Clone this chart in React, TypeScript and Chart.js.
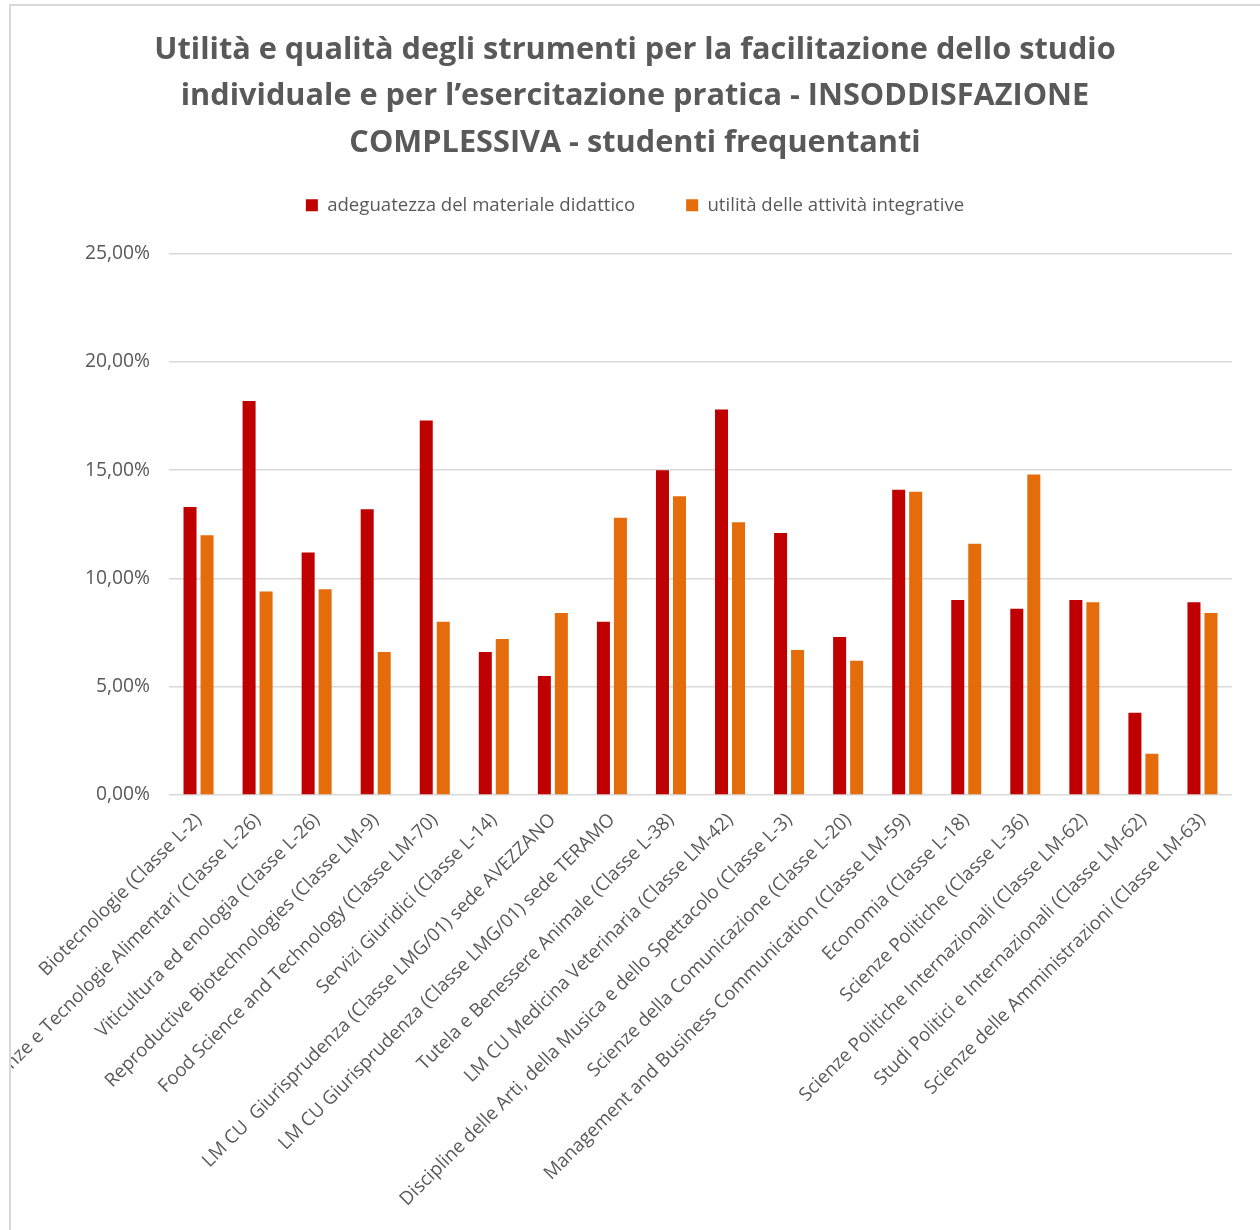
import React, { useEffect, useRef } from "react";
import { Chart, registerables } from "chart.js";

Chart.register(...registerables);

const titleLines = [
  "Utilità e qualità degli strumenti per la facilitazione dello studio",
  "individuale e per l’esercitazione pratica - INSODDISFAZIONE",
  "COMPLESSIVA - studenti frequentanti",
];

const seriesNames = [
  "adeguatezza del materiale didattico",
  "utilità delle attività integrative",
];

const categories = [
  "Biotecnologie (Classe L-2)",
  "Scienze e Tecnologie Alimentari (Classe L-26)",
  "Viticultura ed enologia (Classe L-26)",
  "Reproductive Biotechnologies (Classe LM-9)",
  "Food Science and Technology (Classe LM-70)",
  "Servizi Giuridici (Classe L-14)",
  "LM CU  Giurisprudenza (Classe LMG/01) sede AVEZZANO",
  "LM CU Giurisprudenza (Classe LMG/01) sede TERAMO",
  "Tutela e Benessere Animale (Classe L-38)",
  "LM CU Medicina Veterinaria (Classe LM-42)",
  "Discipline delle Arti, della Musica e dello Spettacolo (Classe L-3)",
  "Scienze della Comunicazione (Classe L-20)",
  "Management and Business Communication (Classe LM-59)",
  "Economia (Classe L-18)",
  "Scienze Politiche (Classe L-36)",
  "Scienze Politiche Internazionali (Classe LM-62)",
  "Studi Politici e Internazionali (Classe LM-62)",
  "Scienze delle Amministrazioni (Classe LM-63)",
];

const materialeValues = [13.3, 18.2, 11.2, 13.2, 17.3, 6.6, 5.5, 8.0, 15.0, 17.8, 12.1, 7.3, 14.1, 9.0, 8.6, 9.0, 3.8, 8.9];
const integrativeValues = [12.0, 9.4, 9.5, 6.6, 8.0, 7.2, 8.4, 12.8, 13.8, 12.6, 6.7, 6.2, 14.0, 11.6, 14.8, 8.9, 1.9, 8.4];

const yMin = 0;
const yMax = 25;
const yStep = 5;

const TEXT = "#595959";
const GRID = "#d9d9d9";
const RED = "#C00000";
const ORANGE = "#E46C0A";

const CW = 1248;
const CH = 1224;

export default function App() {
  const ref = useRef<HTMLCanvasElement | null>(null);

  useEffect(() => {
    if (!ref.current) return;
    const chart = new Chart(ref.current, {
      type: "bar",
      data: {
        labels: categories,
        datasets: [
          {
            label: seriesNames[0],
            data: materialeValues,
            backgroundColor: RED,
            categoryPercentage: 0.576,
            barPercentage: 0.765,
          },
          {
            label: seriesNames[1],
            data: integrativeValues,
            backgroundColor: ORANGE,
            categoryPercentage: 0.576,
            barPercentage: 0.765,
          },
        ],
      },
      options: {
        responsive: false,
        animation: false,
        devicePixelRatio: 1,
        layout: { padding: { top: 0, left: 27, right: 27, bottom: 0 } },
        plugins: {
          title: {
            display: true,
            text: titleLines,
            color: TEXT,
            font: { family: "'Open Sans', sans-serif", size: 30.7, weight: "bold", lineHeight: 1.51 },
            padding: { top: 21, bottom: -21 },
          },
          subtitle: {
            display: true,
            text: "",
            weight: 500,
            font: { size: 1, lineHeight: 1 },
            padding: { top: 28, bottom: 0 },
          },
          legend: {
            display: true,
            position: "top",
            labels: {
              color: TEXT,
              boxWidth: 12,
              boxHeight: 12,
              padding: 51,
              font: { family: "'Open Sans', sans-serif", size: 18.6 },
            },
          },
          tooltip: { enabled: false },
        },
        scales: {
          x: {
            grid: { display: false },
            border: { display: false },
            ticks: {
              color: TEXT,
              font: { family: "'Open Sans', sans-serif", size: 18.7 },
              minRotation: 45,
              maxRotation: 45,
              autoSkip: false,
              padding: 6,
            },
            afterFit: (scale: any) => {
              scale.height = 435;
            },
          },
          y: {
            min: yMin,
            max: yMax,
            grid: { color: GRID, lineWidth: 1.5, drawTicks: false },
            border: { display: false },
            ticks: {
              stepSize: yStep,
              color: TEXT,
              padding: 19,
              font: { family: "'Open Sans', sans-serif", size: 19.3 },
              callback: (v: any) => Number(v).toFixed(2).replace(".", ",") + "%",
            },
            afterFit: (scale: any) => {
              scale.width = 131;
            },
          },
        },
      },
    });
    return () => chart.destroy();
  }, []);

  return (
    <div
      style={{
        position: "fixed",
        left: 9,
        top: 4,
        width: 1260,
        height: 1240,
        borderTop: `2px solid ${GRID}`,
        borderLeft: `2px solid ${GRID}`,
        background: "#fff",
        overflow: "hidden",
      }}
    >
      <canvas ref={ref} width={CW} height={CH} style={{ display: "block", width: CW, height: CH }} />
    </div>
  );
}
